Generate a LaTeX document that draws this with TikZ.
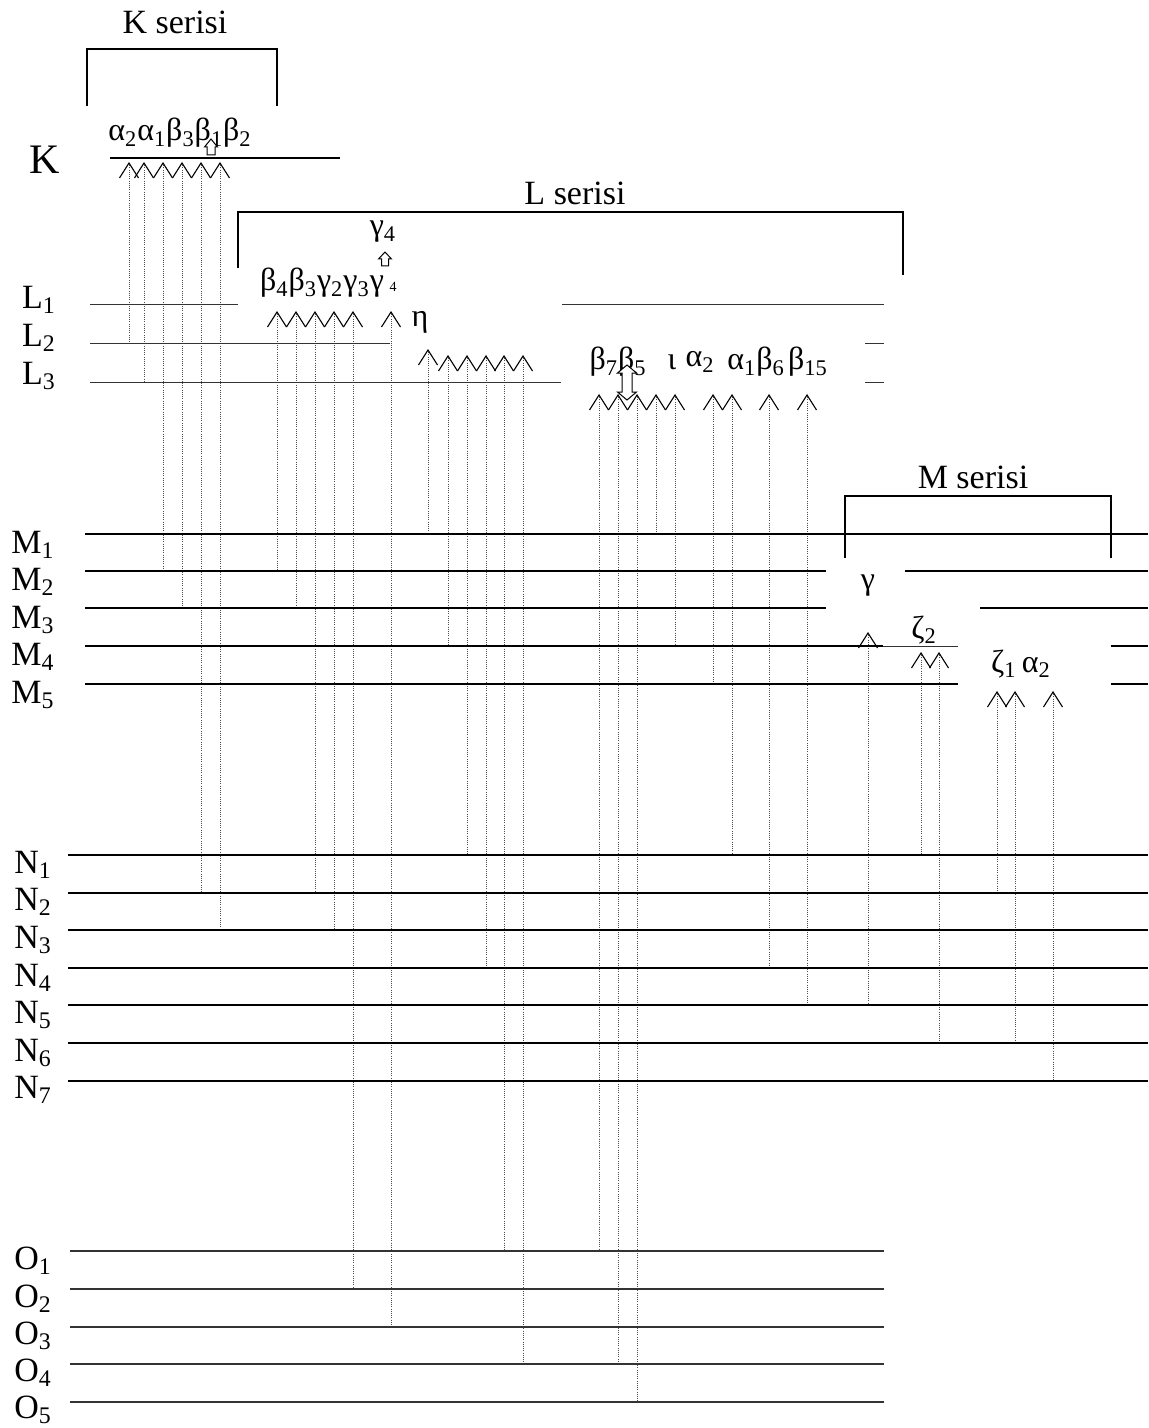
\documentclass[tikz,border=0pt]{standalone}
\usepackage{fontspec}
\setmainfont{Liberation Serif}
\usetikzlibrary{positioning}
\newcommand{\ix}[1]{\textsubscript{#1}}

\begin{document}
\begin{tikzpicture}[x=0.5pt, y=-0.5pt, font=\fontsize{16}{19}\selectfont,
  kabuk/.style={line width=1pt},
  ince/.style={line width=0.5pt, black!80},
  gecis/.style={line width=0.5pt, black!70, dash pattern=on 0.5pt off 0.6pt},
  uc/.style={line width=0.55pt},
  bos/.style={draw, line width=0.5pt, fill=white},
  seri/.style={line width=0.75pt},
  etiket/.style={inner sep=0pt},
  ad/.style={inner sep=0pt, font=\fontsize{17}{20}\selectfont},
]
\useasboundingbox (0,0) rectangle (1148,1428);

% gecisler: x / baslangic / bitis
\foreach \xg/\yu/\ya in {129/163/344, 144/163/382, 163/163/571, 182/163/608, 201/163/892, 220/163/930,
    277/312/571, 296/312/608, 315/312/892, 334/312/930, 353/312/1289, 391/312/1327,
    428/350/534, 448/356/646, 467/356/855, 486/356/968, 504/356/1251, 523/356/1364,
    599/395/1251, 618/395/1364, 637/395/1402, 656/395/534, 675/395/646,
    713/395/684, 732/395/855, 769/395/968, 807/395/1005,
    868/633/1005, 921/653/855, 939/653/1043, 997/692/892, 1015/692/1043, 1053/692/1081} {
  \draw[gecis] (\xg,\yu) -- (\xg,\ya);
  \draw[uc] (\xg-9.5,\yu+15) -- (\xg,\yu) -- (\xg+9.5,\yu+15);
}

% K ve L seviyeleri
\draw[kabuk] (110,158) -- (340,158);
\foreach \ya/\xb/\xc in {305/238/562, 344/390/865, 382/561/865} {
  \draw[ince] (90,\ya) -- (\xb,\ya);
  \draw[ince] (\xc,\ya) -- (884,\ya);
}
% M seviyeleri
\draw[kabuk] (85,534) -- (1148,534);
\draw[kabuk] (85,571) -- (826,571) (905,571) -- (1148,571);
\draw[kabuk] (85,608) -- (826,608) (980,608) -- (1148,608);
\draw[kabuk] (85,646) -- (883,646) (1111,646) -- (1148,646);
\draw[ince] (883,646) -- (958,646);
\draw[kabuk] (85,684) -- (958,684) (1111,684) -- (1148,684);
% N ve O seviyeleri
\foreach \ya in {855,892.5,930,968,1005,1043,1081}
  \draw[kabuk] (68,\ya) -- (1148,\ya);
\foreach \ya in {1251,1289,1327,1364,1402}
  \draw[ince, line width=0.65pt] (70,\ya) -- (884,\ya);

% seviye adlari
\node[etiket, font=\fontsize{21}{24}\selectfont] (K) at (45,160) {K};
\foreach \k/\yy in {1/300, 2/338, 3/376}
  \node[ad] (L\k) at (39,\yy) {L\ix{\k}};
\foreach \k/\yy in {1/545, 2/582, 3/620, 4/657, 5/695}
  \node[ad] (M\k) at (33,\yy) {M\ix{\k}};
\foreach \k/\yy in {1/865, 2/902, 3/940, 4/978, 5/1015, 6/1053, 7/1090}
  \node[ad] (N\k) at (33,\yy) {N\ix{\k}};
\foreach \k/\yy in {1/1261, 2/1299, 3/1336, 4/1373, 5/1410}
  \node[ad] (O\k) at (33,\yy) {O\ix{\k}};

% seriler
\node[ad] (Kseri) at (175,22) {K serisi};
\draw[seri] (87,106) -- (87,49) -- (277,49) -- (277,106);
\node[ad] (Lseri) at (575,193) {L serisi};
\draw[seri] (238,268) -- (238,212) -- (903,212) -- (903,275);
\node[ad] (Mseri) at (973,477) {M serisi};
\draw[seri] (845,558) -- (845,496) -- (1111,496) -- (1111,558);

% cizgi adlari
\node[etiket] (Kcizgi) at (180,133) {α\ix{2}α\ix{1}β\ix{3}β\ix{1}β\ix{2}};
\node[etiket] (gdort) at (383,232) {γ\ix{4}};
\node[etiket] (Lbir) at (322,283) {β\ix{4}β\ix{3}γ\ix{2}γ\ix{3}γ};
\node[etiket, font=\fontsize{7}{8}\selectfont] (kirik) at (393,287) {4};
\node[etiket] (eta) at (420,322) {η};
\node[etiket] (bb) at (618,362) {β\ix{7}β\ix{5}};
\node[etiket] (iota) at (672,362) {ι};
\node[etiket] (aiki) at (700,362) {α\ix{2}};
\node[etiket] (abir) at (756,362) {α\ix{1}β\ix{6}};
\node[etiket] (bonbes) at (808,362) {β\ix{15}};
\node[etiket] (Mg) at (868,586) {γ};
\node[etiket] (zeta) at (924,630) {ζ\ix{2}};
\node[etiket] (zetaa) at (1021,664) {ζ\ix{1}\,α\ix{2}};

% bos oklar
\draw[bos] (211,139) -- (217.5,147) -- (215,147) -- (215,155) -- (207,155) -- (207,147) -- (204.5,147) -- cycle;
\draw[bos] (385,252) -- (391.5,259) -- (388.5,259) -- (388.5,266) -- (381.5,266) -- (381.5,259) -- (378.5,259) -- cycle;
\draw[bos] (627,365) -- (636.5,373) -- (632,373) -- (632,392) -- (636.5,392) -- (627,400)
  -- (617.5,392) -- (622,392) -- (622,373) -- (617.5,373) -- cycle;
\end{tikzpicture}
\end{document}
